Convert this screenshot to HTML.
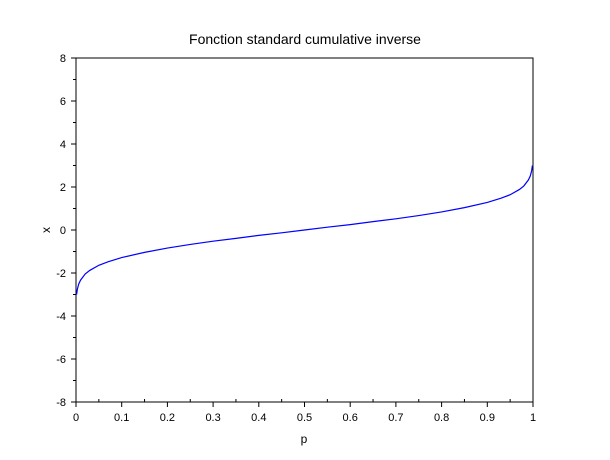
<!DOCTYPE html>
<html><head><meta charset="utf-8"><style>
body{margin:0;background:#fff;}
svg{display:block;font-family:"Liberation Sans",sans-serif;}
</style></head><body>
<svg id="chart" width="610" height="460">
<rect width="610" height="460" fill="#fff"/>
<text x="305" y="44" font-size="14" text-anchor="middle">Fonction standard cumulative inverse</text>
<text x="304" y="443" font-size="12" text-anchor="middle">p</text>
<text x="46" y="234" font-size="12" text-anchor="middle" transform="rotate(-90 46 230)">x</text>
<g id="axes"></g>
<path id="curve" fill="none" stroke="#0000ff" stroke-width="1.2"/>
</svg>
<script>
const pValues=[0.0013,0.003,0.006,0.01,0.02,0.03,0.05,0.07,0.1,0.15,0.2,0.25,0.3,0.35,0.4,0.45,0.5,0.55,0.6,0.65,0.7,0.75,0.8,0.85,0.9,0.93,0.95,0.97,0.98,0.99,0.994,0.997,0.9987];
const xValues=[-3.0,-2.75,-2.51,-2.33,-2.05,-1.88,-1.64,-1.48,-1.28,-1.04,-0.84,-0.67,-0.52,-0.39,-0.25,-0.13,0,0.13,0.25,0.39,0.52,0.67,0.84,1.04,1.28,1.48,1.64,1.88,2.05,2.33,2.51,2.75,3.0];
const xTicks=[0,0.1,0.2,0.3,0.4,0.5,0.6,0.7,0.8,0.9,1];
const xTickLabels=["0","0.1","0.2","0.3","0.4","0.5","0.6","0.7","0.8","0.9","1"];
const yTicks=[-8,-6,-4,-2,0,2,4,6,8];
const yTickLabels=["-8","-6","-4","-2","0","2","4","6","8"];
const X0=76,X1=533,Y0=402,Y1=58;
const sx=v=>X0+(v-0)/(1-0)*(X1-X0);
const sy=v=>Y0-(v+8)/16*(Y0-Y1);
const NS="http://www.w3.org/2000/svg";
const g=document.getElementById('axes');
function mk(tag,attrs){const e=document.createElementNS(NS,tag);for(const k in attrs)e.setAttribute(k,attrs[k]);g.appendChild(e);return e;}
const box=mk('rect',{x:X0,y:Y1,width:X1-X0,height:Y0-Y1,fill:'none',stroke:'#000','stroke-width':1});


xTicks.forEach((t,i)=>{
 const x=sx(t);
 const l=mk('line',{x1:x,x2:x,y1:Y0,y2:Y0+5,stroke:'#000'});
 
 
 const tx=mk('text',{x:x,y:Y0+19,'font-size':11,'text-anchor':'middle'});
 tx.textContent=xTickLabels[i];
 
 
 if(i<xTicks.length-1){
  const m=sx((t+xTicks[i+1])/2);
  const ml=mk('line',{x1:m,x2:m,y1:Y0,y2:Y0-3,stroke:'#000'});
  
  
 }
});
yTicks.forEach((t,i)=>{
 const y=sy(t);
 const l=mk('line',{x1:X0-5,x2:X0,y1:y,y2:y,stroke:'#000'});
 
 
 const tx=mk('text',{x:X0-10,y:y+4,'font-size':11,'text-anchor':'end'});
 tx.textContent=yTickLabels[i];
 
 
 if(i<yTicks.length-1){
  const m=sy((t+yTicks[i+1])/2);
  const ml=mk('line',{x1:X0-3,x2:X0,y1:m,y2:m,stroke:'#000'});
  
  
 }
});
let d='';
pValues.forEach((p,i)=>{d+=(i?'L':'M')+sx(p).toFixed(2)+','+sy(xValues[i]).toFixed(2);});
document.getElementById('curve').setAttribute('d',d);
</script>
</body></html>
